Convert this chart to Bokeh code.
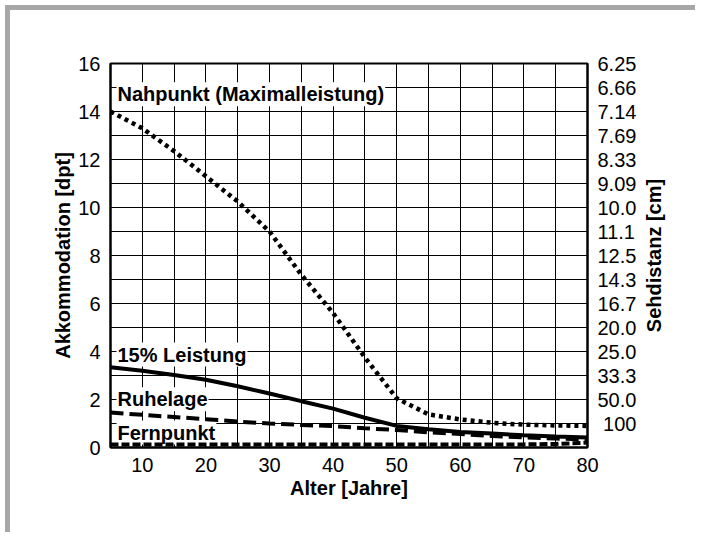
import math
from bokeh.plotting import figure
from bokeh.models import Range1d, LinearAxis, FixedTicker, Label
from bokeh.embed import file_html
from bokeh.resources import INLINE

# ---- data ----
ages = [5, 10, 15, 20, 25, 30, 35, 40, 45, 50, 55, 60, 65, 70, 75, 80]
nahpunkt = [14.0, 13.3, 12.35, 11.3, 10.25, 9.0, 7.2, 5.6, 3.75, 2.05, 1.38, 1.17, 1.03, 0.95, 0.92, 0.9]
leistung15 = [3.34, 3.2, 3.02, 2.82, 2.55, 2.25, 1.93, 1.62, 1.24, 0.9, 0.76, 0.65, 0.58, 0.51, 0.46, 0.42]
ruhelage = [1.46, 1.36, 1.27, 1.18, 1.08, 1.0, 0.94, 0.89, 0.8, 0.73, 0.63, 0.56, 0.48, 0.42, 0.37, 0.34]
fernpunkt = [0.12, 0.12, 0.12, 0.12, 0.12, 0.12, 0.12, 0.12, 0.12, 0.12, 0.12, 0.12, 0.12, 0.13, 0.15, 0.2]

x_ticks = [10, 20, 30, 40, 50, 60, 70, 80]
x_grid = [5, 10, 15, 20, 25, 30, 35, 40, 45, 50, 55, 60, 65, 70, 75, 80]
left_ticks = [0, 2, 4, 6, 8, 10, 12, 14, 16]
right_ticks = [1, 2, 3, 4, 5, 6, 7, 8, 9, 10, 11, 12, 13, 14, 15, 16]
right_labels = ["\u00a0100", "50.0", "33.3", "25.0", "20.0", "16.7", "14.3", "12.5",
                "11.1", "10.0", "9.09", "8.33", "7.69", "7.14", "6.66", "6.25"]
series_names = ["Nahpunkt (Maximalleistung)", "15% Leistung", "Ruhelage", "Fernpunkt"]
right_title = "Sehdistanz [cm]"

FONT = "Liberation Sans"

p = figure(width=685, height=522, x_range=Range1d(5, 80), y_range=Range1d(0, 16),
           output_backend="svg", toolbar_location=None,
           min_border_left=100, min_border_top=53, min_border_right=113, min_border_bottom=90)
p.styles = {"border-left": "5px solid #a7a7aa", "border-top": "5px solid #a7a7aa",
            "margin-left": "5px", "margin-top": "5px", "box-sizing": "content-box"}

p.outline_line_color = "black"
p.outline_line_width = 2

p.xgrid.ticker = FixedTicker(ticks=x_grid)
p.ygrid.ticker = FixedTicker(ticks=right_ticks)
for g in (p.xgrid, p.ygrid):
    g.grid_line_color = "black"
    g.grid_line_width = 1
    g.grid_line_alpha = 1.0

p.xaxis.ticker = FixedTicker(ticks=x_ticks)
p.yaxis.ticker = FixedTicker(ticks=left_ticks)
p.xaxis.axis_label = "Alter [Jahre]"
p.yaxis.axis_label = "Akkommodation [dpt]"

right_axis = LinearAxis(ticker=FixedTicker(ticks=right_ticks),
                        major_label_overrides={t: l for t, l in zip(right_ticks, right_labels)})
p.add_layout(right_axis, "right")

for ax in (p.xaxis[0], p.yaxis[0], right_axis):
    ax.major_tick_out = 0
    ax.major_tick_in = 0
    ax.minor_tick_out = 0
    ax.minor_tick_in = 0
    ax.axis_line_color = "black"
    ax.axis_line_width = 2
    ax.major_label_text_font = FONT
    ax.major_label_text_font_size = "20px"
    ax.major_label_text_color = "black"
    ax.axis_label_text_font = FONT
    ax.axis_label_text_font_size = "20px"
    ax.axis_label_text_font_style = "bold"
    ax.axis_label_text_color = "black"
    ax.major_label_standoff = 10
p.xaxis.axis_label_standoff = 2
p.yaxis.axis_label_standoff = 1

# ---- labels (under the curves) ----
label_y = [14.72, 3.87, 2.01, 0.62]
for name, ly in zip(series_names, label_y):
    lab = Label(x=5, y=ly, x_offset=6, text=name, text_font=FONT, text_font_size="20px",
                text_font_style="bold", text_baseline="alphabetic", text_color="black",
                background_fill_color="white", padding=1, level="underlay")
    p.add_layout(lab)

# ---- curves ----
p.line(ages, nahpunkt, line_color="black", line_width=4.5, line_dash="4 4", line_cap="butt")
p.line(ages, leistung15, line_color="black", line_width=4)
p.line(ages, ruhelage, line_color="black", line_width=4, line_dash="13 6", line_cap="butt")
p.line(ages, fernpunkt, line_color="black", line_width=4, line_dash="8 3", line_cap="butt")

# ---- right-hand axis title (reads bottom to top), in a small overlaid figure ----
t = figure(width=30, height=200, x_range=Range1d(0, 1), y_range=Range1d(0, 1),
           output_backend="svg", toolbar_location=None,
           x_axis_location=None, y_axis_location=None,
           min_border=0, min_border_left=0, min_border_right=0,
           min_border_top=0, min_border_bottom=0)
t.grid.visible = False
t.outline_line_color = None
t.background_fill_color = None
t.border_fill_color = None
t.styles = {"position": "absolute", "left": "638px", "top": "155px"}
t.add_layout(Label(x=0.5, y=0.5, text=right_title, angle=math.pi / 2,
                   text_align="center", text_baseline="middle", text_font=FONT,
                   text_font_size="20px", text_font_style="bold", text_color="black"))

open("out.html", "w").write(file_html([p, t], INLINE))
